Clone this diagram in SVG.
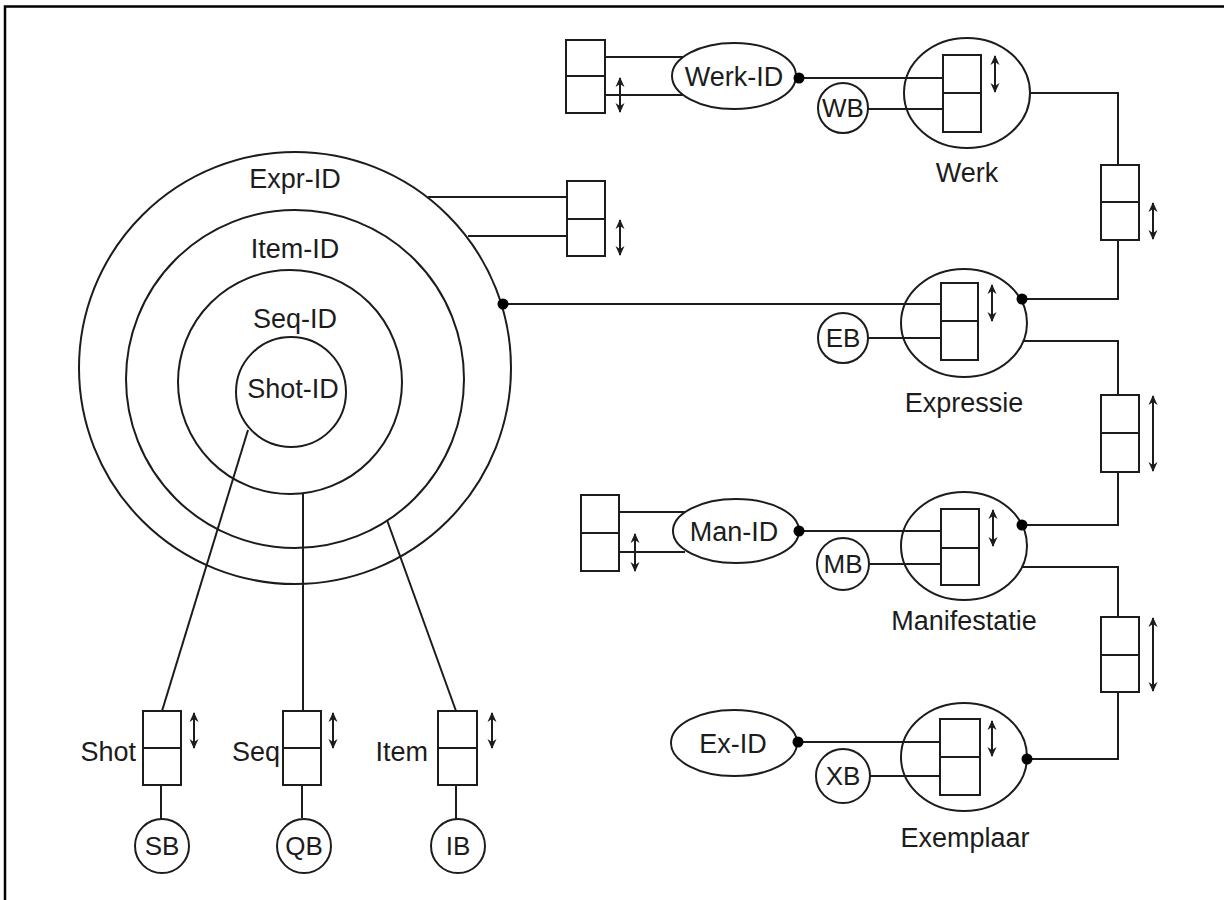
<svg xmlns="http://www.w3.org/2000/svg" width="1229" height="900" viewBox="0 0 1229 900">
<style>
.s{fill:none;stroke:#1c1c1c;stroke-width:2}
.w{fill:#fff;stroke:#1c1c1c;stroke-width:2}
.t{font-family:"Liberation Sans",Arial,sans-serif;font-size:27px;fill:#1c1c1c;text-anchor:middle}
.c{font-family:"Liberation Sans",Arial,sans-serif;font-size:26px;fill:#1c1c1c;text-anchor:middle}
.e{font-family:"Liberation Sans",Arial,sans-serif;font-size:27px;fill:#1c1c1c;text-anchor:end}
.a{fill:none;stroke:#1c1c1c;stroke-width:2;marker-start:url(#ah);marker-end:url(#ah)}
.d{fill:#000}
</style>
<defs>
<marker id="ah" viewBox="0 0 10 10" refX="9" refY="5" markerWidth="11" markerHeight="10" orient="auto-start-reverse" markerUnits="userSpaceOnUse"><path d="M0,0.5 L10,5 L0,9.5 L3,5 Z" fill="#1c1c1c"/></marker>
</defs>
<rect width="1229" height="900" fill="#fff"/>
<g id="frame"><path d="M5,900 V6.5 H1224" fill="none" stroke="#000" stroke-width="2.5"/></g>

<g id="connectors" class="s">
<line x1="605" y1="57" x2="684" y2="57"/>
<line x1="605" y1="95" x2="684" y2="95"/>
<line x1="799" y1="78" x2="943" y2="78"/>
<line x1="868" y1="109" x2="943" y2="109"/>
<polyline points="1030,93 1118,93 1118,165"/>
<polyline points="1118,240 1118,299 1022,299"/>
<line x1="428" y1="197" x2="567" y2="197"/>
<line x1="468" y1="236" x2="567" y2="236"/>
<line x1="503" y1="304" x2="941" y2="304"/>
<line x1="868" y1="338" x2="941" y2="338"/>
<polyline points="1023,341 1118,341 1118,395"/>
<polyline points="1118,472 1118,525 1022,525"/>
<line x1="619" y1="512" x2="685" y2="512"/>
<line x1="619" y1="552" x2="685" y2="552"/>
<line x1="799" y1="531" x2="941" y2="531"/>
<line x1="869" y1="564" x2="941" y2="564"/>
<polyline points="1022,567 1118,567 1118,617"/>
<polyline points="1118,692 1118,759 1027,759"/>
<line x1="798" y1="742" x2="940" y2="742"/>
<line x1="870" y1="776" x2="940" y2="776"/>
<line x1="248" y1="430" x2="162" y2="711"/>
<line x1="303" y1="493" x2="303" y2="711"/>
<line x1="387" y1="520" x2="456" y2="711"/>
<line x1="161" y1="785" x2="161" y2="819"/>
<line x1="302" y1="785" x2="302" y2="818"/>
<line x1="456" y1="785" x2="456" y2="819"/>
</g>

<g id="expr-id-box">
<rect class="w" x="567" y="181" width="38" height="75"/><line class="s" x1="567" y1="219" x2="605" y2="219"/>
<line class="a" x1="620" y1="220" x2="620" y2="255"/>
</g>
<g id="werk-id-box">
<rect class="w" x="566" y="40" width="39" height="73"/><line class="s" x1="566" y1="76" x2="605" y2="76"/>
<line class="a" x1="620" y1="78" x2="620" y2="112"/>
</g>
<g id="man-id-box">
<rect class="w" x="581" y="495" width="38" height="76"/><line class="s" x1="581" y1="533" x2="619" y2="533"/>
<line class="a" x1="635" y1="534" x2="635" y2="571"/>
</g>

<g id="nested-ids">
<circle class="s" cx="295" cy="368" r="216"/>
<circle class="s" cx="295" cy="379" r="169"/>
<circle class="s" cx="290" cy="382" r="112"/>
<circle class="s" cx="291" cy="392" r="55"/>
<text class="t" x="295" y="188">Expr-ID</text>
<text class="t" x="295" y="258">Item-ID</text>
<text class="t" x="295" y="328">Seq-ID</text>
<text class="t" x="293" y="398">Shot-ID</text>
<circle class="d" cx="503" cy="304" r="5.5"/>
</g>

<g id="werk-id"><ellipse class="w" cx="734" cy="76" rx="62" ry="33"/><text class="t" x="734" y="86">Werk-ID</text><circle class="d" cx="799" cy="78" r="5.5"/></g>
<g id="wb"><circle class="w" cx="843" cy="108" r="25"/><text class="c" x="843" y="117">WB</text></g>
<g id="werk">
<ellipse class="s" cx="967" cy="93" rx="63" ry="55"/>
<rect class="w" x="943" y="55" width="38" height="77"/><line class="s" x1="943" y1="93" x2="981" y2="93"/>
<line class="a" x1="995" y1="56" x2="995" y2="92"/>
<text class="t" x="967" y="182">Werk</text>
</g>

<g id="box-we">
<rect class="w" x="1101" y="165" width="38" height="75"/><line class="s" x1="1101" y1="202" x2="1139" y2="202"/>
<line class="a" x1="1153" y1="203" x2="1153" y2="239"/>
</g>

<g id="eb"><circle class="w" cx="843" cy="338" r="25"/><text class="c" x="843" y="347">EB</text></g>
<g id="expressie">
<ellipse class="s" cx="964" cy="323" rx="63" ry="54"/>
<rect class="w" x="941" y="283" width="37" height="77"/><line class="s" x1="941" y1="321" x2="978" y2="321"/>
<line class="a" x1="992" y1="285" x2="992" y2="321"/>
<circle class="d" cx="1022" cy="299" r="5.5"/>
<text class="t" x="964" y="412">Expressie</text>
</g>

<g id="box-em">
<rect class="w" x="1101" y="395" width="38" height="77"/><line class="s" x1="1101" y1="433" x2="1139" y2="433"/>
<line class="a" x1="1153" y1="396" x2="1153" y2="471"/>
</g>

<g id="man-id"><ellipse class="w" cx="736" cy="531" rx="63" ry="32"/><text class="t" x="734" y="541">Man-ID</text><circle class="d" cx="799" cy="531" r="5.5"/></g>
<g id="mb"><circle class="w" cx="843" cy="564" r="26"/><text class="c" x="843" y="573">MB</text></g>
<g id="manifestatie">
<ellipse class="s" cx="964" cy="546" rx="63" ry="54"/>
<rect class="w" x="941" y="509" width="38" height="76"/><line class="s" x1="941" y1="548" x2="979" y2="548"/>
<line class="a" x1="993" y1="510" x2="993" y2="546"/>
<circle class="d" cx="1022" cy="525" r="5.5"/>
<text class="t" x="964" y="630">Manifestatie</text>
</g>

<g id="box-mx">
<rect class="w" x="1101" y="617" width="38" height="75"/><line class="s" x1="1101" y1="655" x2="1139" y2="655"/>
<line class="a" x1="1153" y1="618" x2="1153" y2="691"/>
</g>

<g id="ex-id"><ellipse class="w" cx="734" cy="743" rx="63" ry="33"/><text class="t" x="733" y="753">Ex-ID</text><circle class="d" cx="798" cy="742" r="5.5"/></g>
<g id="xb"><circle class="w" cx="843" cy="776" r="27"/><text class="c" x="843" y="785">XB</text></g>
<g id="exemplaar">
<ellipse class="s" cx="964" cy="757" rx="63" ry="54"/>
<rect class="w" x="940" y="719" width="40" height="76"/><line class="s" x1="940" y1="757" x2="980" y2="757"/>
<line class="a" x1="992" y1="721" x2="992" y2="756"/>
<circle class="d" cx="1027" cy="759" r="5.5"/>
<text class="t" x="965" y="847">Exemplaar</text>
</g>

<g id="shot">
<rect class="w" x="143" y="711" width="38" height="74"/><line class="s" x1="143" y1="748" x2="181" y2="748"/>
<line class="a" x1="194" y1="713" x2="194" y2="748"/>
<text class="e" x="136" y="761">Shot</text>
</g>
<g id="sb"><circle class="w" cx="162" cy="846" r="27"/><text class="c" x="162" y="855">SB</text></g>
<g id="seq">
<rect class="w" x="283" y="711" width="38" height="74"/><line class="s" x1="283" y1="748" x2="321" y2="748"/>
<line class="a" x1="333" y1="713" x2="333" y2="748"/>
<text class="e" x="280" y="761">Seq</text>
</g>
<g id="qb"><circle class="w" cx="304" cy="846" r="27"/><text class="c" x="304" y="855">QB</text></g>
<g id="item">
<rect class="w" x="438" y="711" width="39" height="74"/><line class="s" x1="438" y1="748" x2="477" y2="748"/>
<line class="a" x1="492" y1="713" x2="492" y2="748"/>
<text class="e" x="428" y="761">Item</text>
</g>
<g id="ib"><circle class="w" cx="458" cy="846" r="27"/><text class="c" x="458" y="855">IB</text></g>
</svg>
